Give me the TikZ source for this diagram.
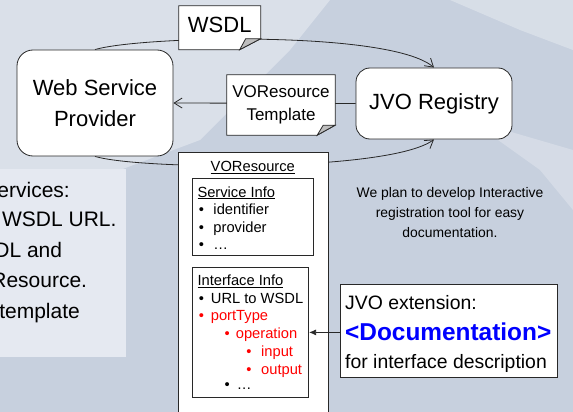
\documentclass[tikz,border=0pt]{standalone}
\usepackage{fontspec}
\setmainfont{Liberation Sans}
\usetikzlibrary{arrows.meta}
\pgfdeclarelayer{bglayer}
\pgfdeclarelayer{connlayer}
\pgfdeclarelayer{notelayer}
\pgfsetlayers{bglayer,connlayer,notelayer,main}
\definecolor{bgblue}{RGB}{199,208,222}
\definecolor{panelfill}{RGB}{229,233,241}
\definecolor{edgecol}{RGB}{40,40,40}
\definecolor{flapgray}{RGB}{190,190,190}
\definecolor{redtext}{RGB}{255,0,0}
\definecolor{bluetext}{RGB}{0,0,255}
\newcommand\notebox[3]{%
  \draw[boxline,fill=white] (#1.north west) -- (#1.north east) -- ([yshift=#3]#1.south east) -- ([xshift=-#2]#1.south east) -- (#1.south west) -- cycle;
  \draw[boxline,fill=flapgray] ([xshift=-#2]#1.south east) -- ([xshift=-#2+6pt,yshift=#3]#1.south east) -- ([yshift=#3]#1.south east) -- cycle;
}
\begin{document}
\begin{tikzpicture}[x=1pt,y=-1pt,
  boxline/.style={draw=edgecol,line width=0.8pt},
  conn/.style={draw=edgecol,line width=0.8pt},
  openarrow/.style={-{Straight Barb[length=8pt,width=10pt,line width=0.8pt]}},
  roundbox/.style={boxline,fill=white,rounded corners=16pt,inner sep=0pt,align=center,font=\fontsize{22}{31}\selectfont},
  notenode/.style={inner sep=0pt,align=center},
  plainbox/.style={boxline,fill=white,inner sep=0pt,anchor=north west},
  item/.style={anchor=base west,inner sep=0pt,font=\fontsize{14.7}{17}\selectfont},
  reditem/.style={item,text=redtext},
  leftline/.style={anchor=base east,inner sep=0pt,font=\fontsize{21}{25}\selectfont},
  doctext/.style={anchor=base west,inner sep=0pt,font=\fontsize{19.4}{23}\selectfont}]
\useasboundingbox (0,0) rectangle (573,412);
\clip (0,0) rectangle (573,412);

\begin{pgfonlayer}{bglayer}
\fill[bgblue] (0,0) rectangle (573,412);
\fill[white,opacity=0.35] (0,0) -- (330,0) -- (290,50) -- (200,140) -- (120,170) -- (0,175) -- cycle;
\fill[white,opacity=0.3] (450,0) -- (573,0) -- (573,50) -- (520,30) -- cycle;
\fill[white,opacity=0.25] (470,120) -- (573,150) -- (573,210) -- (540,170) -- cycle;
\fill[panelfill] (0,169) rectangle (126,357);
\end{pgfonlayer}

% left panel text (clipped at the left edge)
\node[leftline] (l1) at (70,197.3) {ervices:};
\node[leftline] (l2) at (116.7,226.7) {WSDL URL.};
\node[leftline] (l3) at (62.3,257.3) {DL and};
\node[leftline] (l4) at (87.3,287.3) {Resource.};
\node[leftline] (l5) at (80,318.3) {template};

% main nodes
\node[roundbox,minimum width=156pt,minimum height=106pt] (wsp) at (95,103) {Web Service\\Provider};
\node[roundbox,rounded corners=14pt,minimum width=156pt,minimum height=71pt] (jvo) at (434,103.5) {JVO Registry};
\node[notenode,minimum width=81.5pt,minimum height=43.5pt,text depth=5.5pt,font=\fontsize{22}{26}\selectfont] (wsdl) at (219.75,27.75) {WSDL};
\node[notenode,minimum width=108pt,minimum height=60pt,font=\fontsize{17}{23.6}\selectfont] (tmpl) at (281,105) {VOResource\\Template};

% VOResource box
\node[plainbox,minimum width=150pt,minimum height=280pt] (vor) at (177.5,152) {};
\node[anchor=base,inner sep=0pt,font=\fontsize{14.7}{17}\selectfont] (vorh) at (252.8,171.3) {\underline{VOResource}};

\node[plainbox,minimum width=121.3pt,minimum height=77.3pt] (sinfo) at (192,177.7) {};
\node[item] (sh) at (197.3,197) {\underline{Service Info}};
\node[item] (s1) at (198.7,214.3) {\makebox[14.6pt][l]{\textbullet}identifier};
\node[item] (s2) at (198.7,232) {\makebox[14.6pt][l]{\textbullet}provider};
\node[item] (s3) at (198.7,249.5) {\makebox[14.6pt][l]{\textbullet}…};

\node[plainbox,minimum width=116.3pt,minimum height=129.4pt] (iinfo) at (192,267.3) {};
\node[item] (ih) at (197.3,285.3) {\underline{Interface Info}};
\node[item] (i1) at (198.7,303) {\makebox[12pt][l]{\textbullet}URL to WSDL};
\node[reditem] (i2) at (198.7,320.8) {\makebox[12pt][l]{\textbullet}portType};
\node[reditem] (i3) at (224.4,338.6) {\makebox[11.3pt][l]{\textbullet}operation};
\node[reditem] (i4) at (246.1,356.4) {\makebox[14.9pt][l]{\textbullet}input};
\node[reditem] (i5) at (246.1,374.2) {\makebox[14.9pt][l]{\textbullet}output};
\node[item] (i6) at (224.4,389) {\makebox[12.3pt][l]{\textbullet}…};

% plan text
\node[align=center,inner sep=0pt,font=\fontsize{13.9}{20}\selectfont] (plan) at (450,213) {We plan to develop Interactive\\registration tool for easy\\documentation.};

% documentation box
\node[plainbox,minimum width=217pt,minimum height=93pt] (doc) at (340,284) {};
\node[doctext] (d1) at (345,309.5) {JVO extension:};
\node[doctext,font=\fontsize{24.4}{28}\selectfont\bfseries,text=bluetext] (d2) at (345,340) {<Documentation>};
\node[doctext] (d3) at (345,368.3) {for interface description};

\draw[conn,-{Latex[length=7pt,width=6pt]}] (doc.west |- iinfo.east) -- (iinfo.east);

\begin{pgfonlayer}{connlayer}
\draw[conn,openarrow] (wsp.north) .. controls (140,36) and (390,30) .. (jvo.north);
\draw[conn,openarrow] (wsp.south) .. controls (140,170) and (390,172) .. (jvo.south);
\draw[conn,openarrow] (jvo.west) -- (wsp.east);
\end{pgfonlayer}

\begin{pgfonlayer}{notelayer}
\notebox{wsdl}{21pt}{11pt}
\notebox{tmpl}{18pt}{10pt}
\end{pgfonlayer}
\end{tikzpicture}
\end{document}
